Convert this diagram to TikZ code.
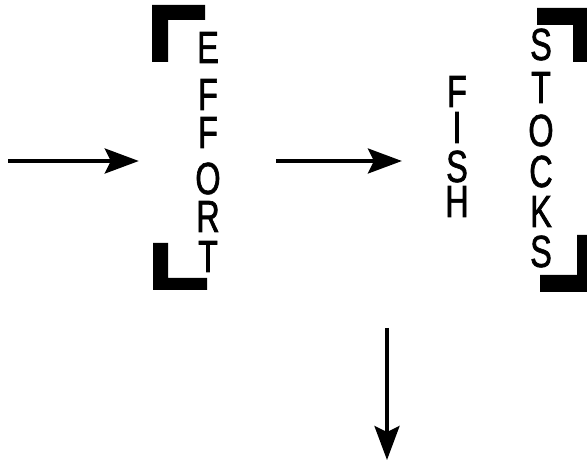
\documentclass[tikz,border=0pt]{standalone}
\usepackage{fontspec}
\newfontfamily\stemfont[FakeStretch=0.72,FakeBold=1.5]{Liberation Sans}
\usetikzlibrary{arrows.meta,fit}

\tikzset{
  letter/.style={font=\stemfont\fontsize{45}{45}\selectfont, inner sep=0pt, anchor=base},
  flow/.style={line width=3.5pt, -{Stealth[length=34pt,width=25pt,inset=6pt]}},
}

\begin{document}
\begin{tikzpicture}[x=1pt,y=-1pt]
  \useasboundingbox (0,0) rectangle (587,462);

  % words set downwards, one node per letter
  \foreach \l/\y [count=\i] in {E/63, F/110, F/148, O/194, R/232, T/272} {
    \node[letter] (e\i) at (208,\y) {\l};
  }
  \foreach \l/\y [count=\i] in {F/107, I/143, S/182, H/217} {
    \node[letter] (f\i) at (457,\y) {\l};
  }
  \foreach \l/\y [count=\i] in {S/60, T/103, O/146, C/187, K/227, S/267} {
    \node[letter] (s\i) at (541,\y) {\l};
  }
  \node[fit=(e1)(e6), inner sep=0pt] (effort) {};
  \node[fit=(f1)(f4), inner sep=0pt] (fish) {};
  \node[fit=(s1)(s6), inner sep=0pt] (stocks) {};

  % heavy corner brackets
  \fill (152,5) -- (205,5) -- (205,20) -- (168,20) -- (168,62) -- (152,62) -- cycle;
  \fill (153,243) -- (168,243) -- (168,278) -- (207,278) -- (207,290) -- (153,290) -- cycle;
  \fill (537,8) -- (587,8) -- (587,62) -- (573,62) -- (573,25) -- (537,25) -- cycle;
  \fill (577,235) -- (587,235) -- (587,292) -- (540,292) -- (540,275) -- (577,275) -- cycle;

  % arrows
  \coordinate (row) at (8,161);
  \coordinate (catch) at (387,460);
  \draw[flow, shorten >=58pt] (row) -- (row -| effort.west);
  \draw[flow, shorten <=57pt, shorten >=43pt] (row -| effort.east) -- (row -| fish.west);
  \draw[flow, shorten <=60pt] (catch |- stocks.south) -- (catch);
\end{tikzpicture}
\end{document}
